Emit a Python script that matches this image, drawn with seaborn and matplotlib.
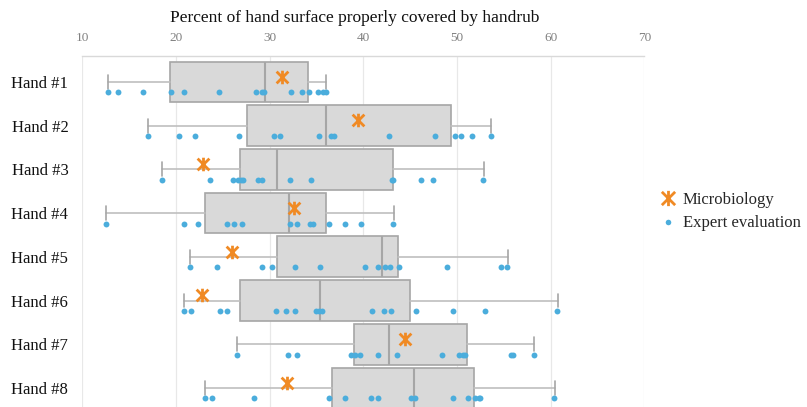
import numpy as np
import pandas as pd
import seaborn as sns
import matplotlib.pyplot as plt
from matplotlib.path import Path
from matplotlib.lines import Line2D

# Data
hands = ["Hand #1", "Hand #2", "Hand #3", "Hand #4", "Hand #5", "Hand #6", "Hand #7", "Hand #8"]

# expert evaluations (blue dots), one list per hand
expert_values = [
    [12.8, 13.8, 16.5, 19.5, 20.9, 24.6, 28.5, 29.2, 29.4, 32.3, 33.5, 34.2, 35.2, 35.7, 36.0],
    [17.0, 20.3, 22.0, 26.7, 30.5, 31.1, 35.3, 36.5, 36.9, 42.7, 47.6, 49.8, 50.4, 51.6, 53.6],
    [18.5, 23.6, 26.1, 26.6, 26.9, 27.2, 28.8, 29.2, 32.2, 34.4, 43.1, 43.2, 46.2, 47.4, 52.8],
    [12.5, 20.9, 22.4, 25.5, 26.2, 27.1, 32.2, 32.9, 34.3, 34.6, 36.3, 38.0, 39.8, 43.2],
    [21.5, 24.4, 29.2, 30.3, 32.7, 35.4, 40.2, 41.6, 42.3, 42.8, 43.8, 48.9, 54.7, 55.3],
    [20.9, 21.6, 24.7, 25.5, 30.7, 31.8, 32.7, 35.0, 35.3, 35.6, 40.9, 42.2, 43.0, 45.6, 49.6, 53.0, 60.7],
    [26.5, 32.0, 32.9, 38.7, 39.1, 39.6, 41.6, 43.6, 48.4, 50.2, 50.6, 50.9, 55.8, 56.0, 58.2],
    [23.1, 23.9, 28.3, 36.3, 38.0, 40.8, 41.6, 45.1, 45.5, 49.6, 51.2, 51.9, 52.3, 52.5, 60.4],
]

# microbiology result (orange star), one per hand
microbiology = [31.3, 39.4, 22.9, 32.6, 26.0, 22.8, 44.4, 31.9]

# box statistics as drawn in the reference
whisker_low = [12.8, 17.0, 18.5, 12.5, 21.5, 20.9, 26.5, 23.1]
q1 = [19.4, 27.6, 26.8, 23.1, 30.8, 26.8, 39.0, 36.7]
median = [29.5, 36.0, 30.8, 32.1, 42.0, 35.4, 42.7, 45.4]
q3 = [34.1, 49.4, 43.2, 36.0, 43.7, 45.0, 51.1, 51.8]
whisker_high = [36.0, 53.6, 52.9, 43.3, 55.4, 60.8, 58.2, 60.5]

x_ticks = [10, 20, 30, 40, 50, 60, 70]

orange = "#F08A24"
blue = "#4BADDC"

sns.set_theme(style="white")
plt.rcParams["font.family"] = ["Liberation Serif", "DejaVu Serif"]

# star marker: an X with a vertical stroke
star = Path([(-1, -1), (1, 1), (-1, 1), (1, -1), (0, -1.15), (0, 1.15)],
            [Path.MOVETO, Path.LINETO] * 3)

fig = plt.figure(figsize=(8.07, 4.07), dpi=100)
ax = fig.add_axes([0.1019, 0.0, 0.6966, 0.8624])

# boxes
stats = [dict(whislo=whisker_low[i], q1=q1[i], med=median[i], q3=q3[i],
              whishi=whisker_high[i], label=hands[i]) for i in range(len(hands))]
ax.bxp(stats, positions=np.arange(len(hands)), widths=0.93, orientation="horizontal",
       showfliers=False, patch_artist=True, capwidths=0.32,
       boxprops=dict(facecolor="#D9D9D9", edgecolor="#A6A6A6", linewidth=1.2),
       medianprops=dict(color="#A6A6A6", linewidth=1.5),
       whiskerprops=dict(color="#BFBFBF", linewidth=1.2),
       capprops=dict(color="#A6A6A6", linewidth=1.2), zorder=2)

# expert evaluation dots
rows = []
for i, vals in enumerate(expert_values):
    for v in vals:
        rows.append((i, v))
df = pd.DataFrame(rows, columns=["hand", "value"])
sns.scatterplot(x=df["value"], y=df["hand"] + 0.24, color=blue, s=18,
                linewidth=0, ax=ax, zorder=3)

# microbiology stars
sns.scatterplot(x=microbiology, y=np.arange(len(hands)) - 0.12, marker=star, s=95,
                color=orange, edgecolor=orange, linewidth=2.0, ax=ax, zorder=4)

ax.set_xlim(10, 70)
ax.set_ylim(7.437, -0.595)
ax.set_xticks(x_ticks)
ax.set_yticks(np.arange(len(hands)))
ax.set_yticklabels(hands)
ax.set_xlabel("")
ax.set_ylabel("")
ax.xaxis.tick_top()
ax.tick_params(axis="x", length=0, pad=9, labelsize=9.5, labelcolor="#808080")
ax.tick_params(axis="y", length=0, pad=10, labelsize=12, labelcolor="#111111")
ax.grid(True, axis="x", color="#E8E8E8", linewidth=0.9, zorder=0)
ax.set_axisbelow(True)
for side in ["left", "right", "bottom"]:
    ax.spines[side].set_visible(False)
ax.spines["top"].set_color("#D9D9D9")
ax.spines["top"].set_linewidth(1.0)

fig.text(0.439, 0.955, "Percent of hand surface properly covered by handrub",
         ha="center", va="center", fontsize=12.5, color="#111111")

handles = [
    Line2D([], [], marker=star, linestyle="none", markersize=11,
           markeredgecolor=orange, markeredgewidth=2.0, color=orange),
    Line2D([], [], marker="o", linestyle="none", markersize=4,
           markerfacecolor=blue, markeredgewidth=0),
]
fig.legend(handles, ["Microbiology", "Expert evaluation"], loc="center left",
           bbox_to_anchor=(0.805, 0.48), frameon=False, fontsize=12,
           handletextpad=0.3, labelspacing=0.45, handlelength=1.2, borderpad=0)

fig.savefig("out.png", dpi=100)
